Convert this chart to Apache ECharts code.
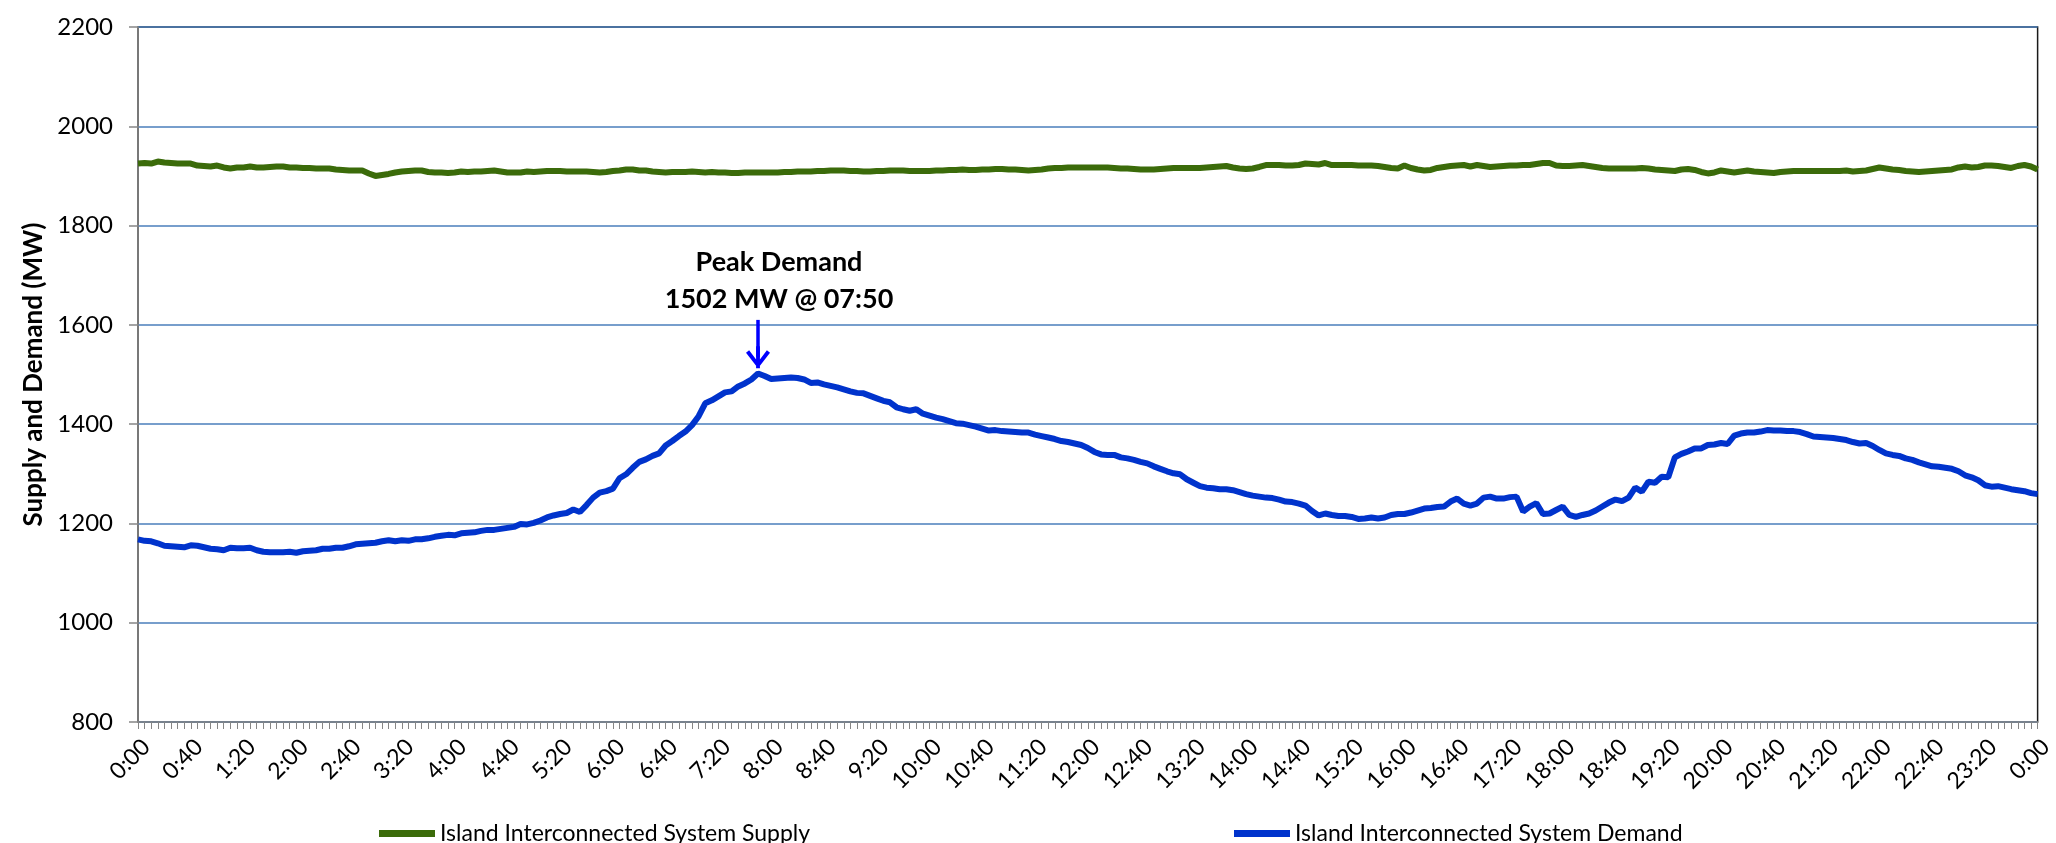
<!DOCTYPE html>
<html>
<head>
<meta charset="utf-8">
<script src="https://cdn.jsdelivr.net/npm/echarts@6/dist/echarts.min.js"></script>
<style>
html,body{margin:0;padding:0;background:#fff;}
#chart{width:2056px;height:843px;}
</style>
</head>
<body>
<div id="chart"></div>
<script>
// 5-minute interval categories, 0:00 .. 0:00 (next day)
var categories = [];
for (var i = 0; i <= 288; i++) {
  var m = (i * 5) % 1440;
  var h = Math.floor(m / 60), mm = m % 60;
  categories.push(h + ':' + (mm < 10 ? '0' : '') + mm);
}

var seriesNames = ['Island Interconnected System Supply', 'Island Interconnected System Demand'];

var supply = [
1925,1926,1925,1929,1927,1926,1925,1925,1925,1921,
1920,1919,1921,1917,1915,1917,1917,1919,1917,1917,
1918,1919,1919,1917,1917,1916,1916,1915,1915,1915,
1913,1912,1911,1911,1911,1905,1900,1902,1904,1907,
1909,1910,1911,1911,1908,1907,1907,1906,1907,1909,
1908,1909,1909,1910,1911,1909,1907,1907,1907,1909,
1908,1909,1910,1910,1910,1909,1909,1909,1909,1908,
1907,1908,1910,1911,1913,1913,1911,1911,1909,1908,
1907,1908,1908,1908,1909,1908,1907,1908,1907,1907,
1906,1906,1907,1907,1907,1907,1907,1907,1908,1908,
1909,
1909,1909,1910,1910,1911,1911,1911,1910,1910,1909,
1909,1910,1910,1911,1911,1911,1910,1910,1910,1910,
1911,1911,1912,1912,1913,1912,1912,1913,1913,1914,
1914,1913,1913,1912,1911,1912,1913,1915,1916,1916,
1917,1917,1917,1917,1917,1917,1917,1916,1915,1915,
1914,1913,1913,1913,1914,1915,1916,1916,1916,1916,
1916,1917,1918,1919,1920,1917,1915,1914,1915,1918,
1922,1922,1922,1921,1921,1922,1925,1924,1923,1926,
1922,1922,1922,1922,1921,1921,1921,1920,1918,1916,
1915,1921,1916,1913,1911,1912,1916,1918,1920,1921,
1922,1919,1922,1920,1918,1919,1920,1921,1921,1922,
1922,1924,1926,1926,1921,1920,1920,1921,1922,1920,
1918,1916,1915,1915,1915,1915,1915,1916,1915,1913,
1912,1911,1910,1913,1914,1912,1908,1905,1907,1911,
1909,1907,1909,1911,1909,1908,1907,1906,1908,1909,
1910,1910,1910,1910,1910,1910,1910,1910,1911,1909,
1910,1911,1914,1917,1915,1913,1912,1910,1909,1908,
1909,1910,1911,1912,1913,1917,1919,1917,1918,1921,
1921,1920,1918,1916,1920,1922,1919,1913
];

var demand = [
1168,1165,1164,1160,1155,1154,1153,1152,1156,1155,
1152,1149,1148,1146,1151,1150,1150,1151,1146,1143,
1142,1142,1142,1143,1141,1144,1145,1146,1149,1149,
1151,1151,1154,1158,1159,1160,1161,1164,1166,1164,
1166,1165,1168,1168,1170,1173,1175,1177,1176,1180,
1181,1182,1185,1187,1187,1189,1191,1193,1199,1198,
1201,1206,1212,1216,1219,1221,1228,1223,1237,1252,
1262,1265,1270,1291,1299,1312,1324,1329,1336,1341,
1357,1366,1376,1385,1398,1416,1442,1448,1456,1464,
1466,1476,1482,1490,1502,1497,1491,1492,1493,1494,
1493,1490,1483,1484,1480,1477,1474,1470,1466,1463,
1462,1457,1452,1447,1444,1434,1430,1427,1430,1421,
1417,1413,1410,1406,1402,1401,1398,1395,1391,1387,
1388,1386,1385,1384,1383,1383,1379,1376,1373,1370,
1366,1364,1361,1358,1352,1344,1339,1338,1338,1333,
1331,1328,1324,1321,1315,1310,1305,1301,1299,1289,
1282,1275,1272,1271,1269,1269,1267,1263,1259,1256,
1254,1252,1251,1248,1244,1243,1240,1236,1225,1216,
1220,1217,1215,1215,1213,1209,1210,1212,1210,1212,
1217,1219,1219,1222,1226,1230,1231,1233,1234,1244,
1250,1240,1236,1240,1252,1254,1250,1250,1253,1254,
1224,1234,1241,1219,1220,1227,1234,1217,1213,1217,
1220,1226,1234,1242,1248,1245,1252,1272,1264,1284,
1282,1294,1293,1333,1340,1345,1351,1351,1358,1359,
1362,1360,1377,1381,1383,1383,1385,1388,1387,1387,
1386,1386,1384,1380,1375,1374,1373,1372,1370,1368,
1364,1361,1362,1356,1348,1341,1338,1336,1331,1328,
1323,1319,1315,1314,1312,1310,1305,1297,1293,1287,
1277,1274,1275,1272,1269,1267,1265,1261,1259
];

// Peak annotation
var peakIndex = 94;
var peakValue = 1502;
var peakText = 'Peak Demand\n1502 MW @ 07:50';
var arrowFrom = 1610;
var arrowTo = 1535;

var FONT = 'Lato';
var chart = echarts.init(document.getElementById('chart'), null, {renderer: 'canvas'});

var arrowPath = 'path://M10,0 L20,14 L17.4,16.2 L10,5.6 L2.6,16.2 L0,14 Z M8.4,0 L11.6,0 L11.6,20 L8.4,20 Z';

chart.setOption({
  animation: false,
  backgroundColor: '#ffffff',
  grid: {
    left: 138, right: 13, top: 27, bottom: 121,
    show: true, borderColor: '#1a1a1a', borderWidth: 1.5, backgroundColor: 'transparent'
  },
  legend: [{
    data: [seriesNames[0]],
    left: 374, top: 817,
    icon: 'rect', itemWidth: 56, itemHeight: 7,
    textStyle: {fontFamily: FONT, fontSize: 23, color: '#000'}
  }, {
    data: [seriesNames[1]],
    left: 1229, top: 817,
    icon: 'rect', itemWidth: 56, itemHeight: 7,
    textStyle: {fontFamily: FONT, fontSize: 23, color: '#000'}
  }],
  xAxis: {
    type: 'category',
    data: categories,
    boundaryGap: false,
    axisLine: {lineStyle: {color: '#868686', width: 1.5}},
    axisTick: {show: true, interval: 0, length: 7, lineStyle: {color: '#868686', width: 1}},
    axisLabel: {interval: 7, rotate: 45, margin: 13, verticalAlign: 'top', fontFamily: FONT, fontSize: 23, color: '#000'},
    splitLine: {show: false}
  },
  yAxis: {
    type: 'value',
    min: 800, max: 2200, interval: 200,
    name: 'Supply and Demand (MW)',
    nameLocation: 'middle',
    nameGap: 86,
    nameTextStyle: {fontFamily: FONT, fontSize: 26, fontWeight: 'bold', color: '#000'},
    axisLine: {show: true, lineStyle: {color: '#868686', width: 1.5}},
    axisTick: {show: true, length: 9, lineStyle: {color: '#868686', width: 1.5}},
    axisLabel: {margin: 25, fontFamily: FONT, fontSize: 24, color: '#000',
      formatter: function (v) { return String(v); }},
    splitLine: {show: true, lineStyle: {color: '#4a7ebb', width: 1.5}}
  },
  series: [{
    name: seriesNames[0],
    type: 'line',
    data: supply,
    showSymbol: false,
    symbol: 'none',
    color: '#3b6b0a',
    lineStyle: {color: '#3b6b0a', width: 6}
  }, {
    name: seriesNames[1],
    type: 'line',
    data: demand,
    showSymbol: false,
    symbol: 'none',
    color: '#0033cc',
    lineStyle: {color: '#0033cc', width: 6},
    markLine: {
      silent: true,
      animation: false,
      symbol: ['none', arrowPath],
      symbolSize: [24, 22],
      lineStyle: {color: '#0000ff', width: 3.5, type: 'solid'},
      label: {show: false},
      emphasis: {disabled: true},
      data: [[{coord: [peakIndex, arrowFrom]}, {coord: [peakIndex, arrowTo]}]]
    },
    markPoint: {
      silent: true,
      animation: false,
      symbol: 'circle',
      symbolSize: 2,
      itemStyle: {color: 'rgba(0,0,0,0)'},
      label: {
        show: true,
        position: 'top',
        distance: 0,
        offset: [21, -55],
        formatter: peakText,
        fontFamily: FONT, fontSize: 27, fontWeight: 'bold', lineHeight: 37,
        color: '#000', align: 'center'
      },
      emphasis: {disabled: true},
      data: [{coord: [peakIndex, peakValue]}]
    }
  }]
});
</script>
</body>
</html>
